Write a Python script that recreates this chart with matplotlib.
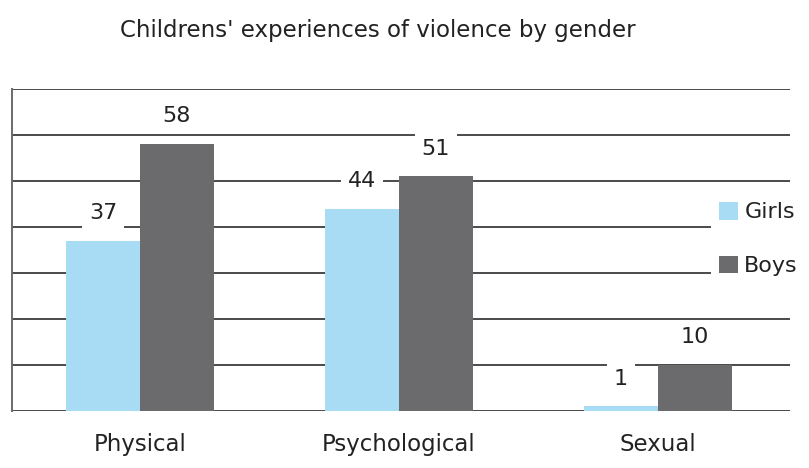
import matplotlib
matplotlib.use("Agg")
import matplotlib.pyplot as plt
import numpy as np

categories = ["Physical", "Psychological", "Sexual"]
girls = [37, 44, 1]
boys = [58, 51, 10]
series_names = ["Girls", "Boys"]
title = "Childrens' experiences of violence by gender"

plt.rcParams['font.family'] = ['DejaVu Sans']

fig = plt.figure(figsize=(8.09, 4.68), dpi=100)
ax = fig.add_axes([12/809, 57/468, (790-12)/809, (411-89)/468])

x = np.arange(len(categories))
w = 0.286
c_girls = "#a8dcf4"
c_boys = "#6b6b6d"
text_c = "#222222"
b1 = ax.bar(x - w/2, girls, w, color=c_girls, label=series_names[0], zorder=2)
b2 = ax.bar(x + w/2, boys, w, color=c_boys, label=series_names[1], zorder=2)

ax.set_xlim(-0.494, 2.51)
ax.set_ylim(0, 70)
ax.set_yticks(np.arange(0, 71, 10))
ax.yaxis.grid(True, color="#4a4a4a", linewidth=1.4)
ax.set_axisbelow(True)
ax.tick_params(axis='y', length=0, labelleft=False)
for s in ["top", "right", "bottom"]:
    ax.spines[s].set_visible(False)
ax.spines["left"].set_color("#6a6a6a")
ax.spines["left"].set_linewidth(1.4)

ax.set_xticks(x)
ax.set_xticklabels(categories, fontsize=16.5, color=text_c)
ax.tick_params(axis='x', length=0, pad=16)

for bars, vals in ((b1, girls), (b2, boys)):
    for r, v in zip(bars, vals):
        ax.annotate(str(v), (r.get_x() + r.get_width()/2, v),
                    xytext=(0, 20), textcoords='offset points',
                    ha='center', va='center', fontsize=16, color=text_c,
                    bbox=dict(boxstyle='square,pad=0.3', fc='white', ec='none'),
                    zorder=4)

leg = fig.legend(loc='upper left', bbox_to_anchor=(711/809, (468-194)/468),
                 frameon=True, facecolor='white', edgecolor='none', framealpha=1,
                 fontsize=16, labelcolor=text_c,
                 handlelength=0.85, handleheight=0.85,
                 handletextpad=0.3, labelspacing=1.5, borderpad=0.35,
                 borderaxespad=0)
leg.set_zorder(10)

fig.text(378/809, (468-31)/468, title, ha='center', va='center',
         fontsize=16.5, color=text_c)

fig.savefig("out.png", dpi=100, facecolor='white')
